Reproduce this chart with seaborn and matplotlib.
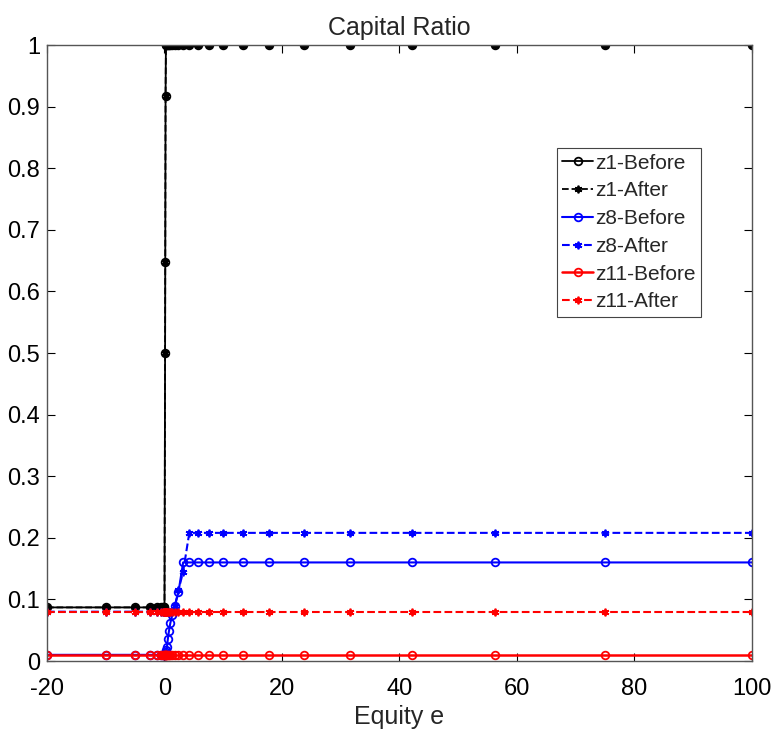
import numpy as np
import pandas as pd
import matplotlib
matplotlib.use("Agg")
import matplotlib.pyplot as plt
import seaborn as sns

# x grid (equity e)
equity = [-20, -10, -5, -2.5, -1.25, -0.625, -0.3125, -0.156, 0,
          0.10, 0.13, 0.18, 0.24, 0.32, 0.42, 0.56, 0.75, 1.00, 1.34, 1.78,
          2.38, 3.17, 4.22, 5.63, 7.51, 10.01, 13.35, 17.80, 23.73, 31.64,
          42.19, 56.25, 75.0, 100.0]

z1_before = [0.087, 0.087, 0.087, 0.087, 0.087, 0.087, 0.087, 0.087, 0.087,
             0.50, 0.648, 0.917, 1.0, 1.0, 1.0, 1.0, 1.0, 1.0, 1.0, 1.0,
             1.0, 1.0, 1.0, 1.0, 1.0, 1.0, 1.0, 1.0, 1.0, 1.0,
             1.0, 1.0, 1.0, 1.0]
z1_after = list(z1_before)

z8_before = [0.01, 0.01, 0.01, 0.01, 0.01, 0.01, 0.01, 0.01, 0.01,
             0.01, 0.01, 0.012, 0.015, 0.018, 0.023, 0.035, 0.048, 0.062, 0.075, 0.09,
             0.112, 0.16, 0.16, 0.16, 0.16, 0.16, 0.16, 0.16, 0.16, 0.16,
             0.16, 0.16, 0.16, 0.16]
z8_after = [0.08, 0.08, 0.08, 0.08, 0.08, 0.08, 0.08, 0.08, 0.08,
            0.08, 0.08, 0.08, 0.08, 0.08, 0.08, 0.08, 0.08, 0.08, 0.08, 0.09,
            0.115, 0.145, 0.208, 0.208, 0.208, 0.208, 0.208, 0.208, 0.208, 0.208,
            0.208, 0.208, 0.208, 0.208]

z11_before = [0.01] * len(equity)
z11_after = [0.08] * len(equity)

x_ticks = [-20, 0, 20, 40, 60, 80, 100]
y_ticks = [0, 0.1, 0.2, 0.3, 0.4, 0.5, 0.6, 0.7, 0.8, 0.9, 1]
y_tick_labels = ["0", "0.1", "0.2", "0.3", "0.4", "0.5", "0.6", "0.7", "0.8", "0.9", "1"]

sns.set_style("white")
plt.rcParams['font.family'] = ['Liberation Sans Narrow', 'Liberation Sans', 'DejaVu Sans']

fig = plt.figure(figsize=(7.74, 7.4), dpi=100)
ax = fig.add_axes([47/774, 1 - 661/740, 705/774, 616/740])

asterisk = (6, 2, 0)
series = [
    ("z1-Before", z1_before, "black", "-", "o", 1.3),
    ("z1-After", z1_after, "black", "--", asterisk, 1.3),
    ("z8-Before", z8_before, "blue", "-", "o", 1.5),
    ("z8-After", z8_after, "blue", "--", asterisk, 1.5),
    ("z11-Before", z11_before, "red", "-", "o", 1.8),
    ("z11-After", z11_after, "red", "--", asterisk, 1.5),
]
for name, vals, col, ls, mk, lw in series:
    df = pd.DataFrame({"e": equity, "v": vals})
    sns.lineplot(data=df, x="e", y="v", ax=ax, color=col, linestyle=ls,
                 marker=mk, markersize=5.5, markerfacecolor="none",
                 markeredgecolor=col, markeredgewidth=1.3, linewidth=lw,
                 label=name, errorbar=None, sort=False)

ax.set_xlim(-20, 100)
ax.set_ylim(0, 1)
ax.set_xticks(x_ticks)
ax.set_xticklabels([str(t) for t in x_ticks])
ax.set_yticks(y_ticks)
ax.set_yticklabels(y_tick_labels)
ax.tick_params(direction="in", length=6, width=0.8, labelsize=17, colors="black",
               top=True, right=True, bottom=True, left=True)
ax.tick_params(axis="x", pad=12)
ax.tick_params(axis="y", pad=5)
for s in ax.spines.values():
    s.set_visible(True)
    s.set_color("#555555")
    s.set_linewidth(1.0)
ax.set_xlabel("Equity e", fontsize=18, labelpad=4)
ax.set_ylabel("")
ax.set_title("Capital Ratio", fontsize=18, pad=7)

leg = ax.legend(loc="upper left", bbox_to_anchor=(0.723, 0.832), fontsize=15,
                frameon=True, fancybox=False, edgecolor="#444444", framealpha=1,
                handlelength=1.5, handletextpad=0.1, labelspacing=0.42,
                borderpad=0.25, borderaxespad=0)
leg.get_frame().set_linewidth(0.8)

fig.savefig("out.png", dpi=100)
